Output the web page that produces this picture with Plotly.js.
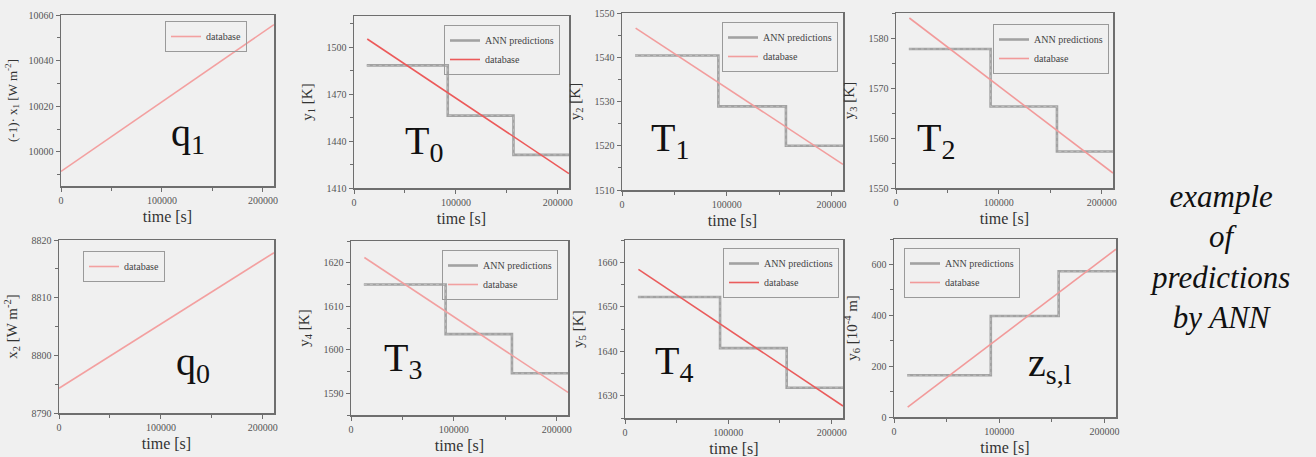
<!DOCTYPE html>
<html>
<head>
<meta charset="utf-8">
<script src="https://cdn.plot.ly/plotly-3.0.1.min.js"></script>
<style>html,body{margin:0;padding:0;background:#f0f0f0;}#chart{width:1316px;height:457px;}</style>
</head>
<body>
<div id="chart"></div>
<script>
// ---------------- data ----------------
const timeTickVals = [0, 100000, 200000];

// database series: start / end points of each linear record
const q1Time = [0, 211000];
const q1Database = [9991.4, 10055.8];
const q0Time = [0, 211000];
const q0Database = [8794.3, 8817.8];

const dbTime = [13000, 211000];
const T0Database = [1505.3, 1419.2];
const T1Database = [1546.6, 1515.8];
const T2Database = [1584.0, 1553.0];
const T3Database = [1621.2, 1590.2];
const T4Database = [1658.4, 1627.7];
const zDatabase = [39, 660];

// ANN predictions: step breakpoints
const annTime = [12500, 92000, 156500, 211000];
const T0Ann = [1488.4, 1456.3, 1431.2, 1431.2];
const T1Ann = [1540.4, 1528.9, 1520.0, 1520.0];
const T2Ann = [1577.8, 1566.3, 1557.3, 1557.3];
const T3Ann = [1615.0, 1603.6, 1594.6, 1594.6];
const T4Ann = [1652.2, 1640.7, 1631.8, 1631.8];
const zAnn = [164, 397, 573, 573];

const panelLabels = ['q<sub>1</sub>', 'T<sub>0</sub>', 'T<sub>1</sub>', 'T<sub>2</sub>',
                     'q<sub>0</sub>', 'T<sub>3</sub>', 'T<sub>4</sub>', 'z<sub>s,l</sub>'];
const yTitles = ['(-1)· x<sub>1</sub> [W m<sup>-2</sup>]', 'y<sub>1</sub> [K]', 'y<sub>2</sub> [K]', 'y<sub>3</sub> [K]',
                 'x<sub>2</sub> [W m<sup>-2</sup>]', 'y<sub>4</sub> [K]', 'y<sub>5</sub> [K]', 'y<sub>6</sub> [10<sup>-4</sup> m]'];
const sideText = '<i>example<br>of<br>predictions<br>by ANN</i>';

// ---------------- layout helpers ----------------
const W = 1316, H = 457;
const FONT = '"Liberation Serif", "DejaVu Serif", serif';
const px = v => v / W;
const py = v => 1 - v / H;

// plot-area boxes [left, right, top, bottom] in pixels
const boxes = [
  [61, 274, 15, 186], [354, 569, 16, 188], [622, 843, 13, 190], [896, 1113, 13, 188],
  [59, 274, 240, 413], [351, 568, 241, 415], [625, 843, 240, 418], [894, 1116, 239, 417]
];
const yRanges = [[9985, 10060], [1410, 1520], [1510, 1550], [1550, 1585],
                 [8790, 8820], [1585, 1625], [1625, 1665], [0, 700]];
const yDticks = [20, 30, 10, 10, 10, 10, 10, 200];
const yTick0 = [10000, 1410, 1510, 1550, 8790, 1590, 1630, 0];
const yTitleSize = [13, 15, 15, 15, 15, 15, 15, 15];
const yStandoff = [8, 10, 10, 10, 10, 10, 10, 10];

const dbColors = ['#f3a0a0', '#ec5a5a', '#f29d9d', '#f29a9a', '#f3a0a0', '#f2a0a0', '#ea5c5c', '#f29a9a'];

const traces = [];
const layout = {
  width: W, height: H,
  paper_bgcolor: '#f0f0f0', plot_bgcolor: '#f0f0f0',
  margin: {l: 0, r: 0, t: 0, b: 0, pad: 0},
  font: {family: FONT, color: '#333'},
  annotations: [], showlegend: true
};

function addPanel(i, dbX, dbY, annY) {
  const n = i + 1;
  const xa = 'x' + (n === 1 ? '' : n), ya = 'y' + (n === 1 ? '' : n);
  const lg = 'legend' + (n === 1 ? '' : n);
  if (annY) {
    traces.push({x: annTime, y: annY, xaxis: xa, yaxis: ya, mode: 'lines', line: {shape: 'hv', color: '#a2a2a2', width: 2.6},
      name: 'ANN predictions', legend: lg});
    traces.push({x: annTime, y: annY, xaxis: xa, yaxis: ya, mode: 'lines', line: {shape: 'hv', color: '#c4c4c4', width: 0.8, dash: 'dot'},
      showlegend: false, hoverinfo: 'skip', legend: lg});
  }
  traces.push({x: dbX, y: dbY, xaxis: xa, yaxis: ya, mode: 'lines', line: {color: dbColors[i], width: 1.6},
    name: 'database', legend: lg});

  const b = boxes[i];
  const common = {showgrid: false, zeroline: false, showline: true, mirror: true, linecolor: '#6e6e6e', linewidth: 1.5,
    ticks: 'outside', ticklen: 4, tickwidth: 1, tickcolor: '#6e6e6e', automargin: false, fixedrange: true,
    tickfont: {family: FONT, size: 10, color: '#555'}, tickformat: 'd'};
  layout['xaxis' + (n === 1 ? '' : n)] = Object.assign({}, common, {
    domain: [px(b[0]), px(b[1])], anchor: ya, range: [0, 211000],
    tickvals: timeTickVals, minor: {tickvals: [50000, 150000], ticks: 'outside', ticklen: 3, tickcolor: '#6e6e6e'},
    title: {text: 'time [s]', font: {family: FONT, size: 16, color: '#333'}, standoff: 6}
  });
  layout['yaxis' + (n === 1 ? '' : n)] = Object.assign({}, common, {
    domain: [py(b[3]), py(b[2])], anchor: xa, range: yRanges[i],
    tick0: yTick0[i], dtick: yDticks[i],
    minor: {dtick: yDticks[i] / 2, ticks: 'outside', ticklen: 3, tickcolor: '#6e6e6e'},
    title: {text: yTitles[i], font: {family: FONT, size: yTitleSize[i], color: '#333'}, standoff: yStandoff[i]}
  });
}

addPanel(0, q1Time, q1Database, null);
addPanel(1, dbTime, T0Database, T0Ann);
addPanel(2, dbTime, T1Database, T1Ann);
addPanel(3, dbTime, T2Database, T2Ann);
addPanel(4, q0Time, q0Database, null);
addPanel(5, dbTime, T3Database, T3Ann);
addPanel(6, dbTime, T4Database, T4Ann);
addPanel(7, dbTime, zDatabase, zAnn);

// legends: [x, y, xanchor]
const legendPos = [[247, 21, 'right'], [560, 25, 'right'], [838, 22, 'right'], [1109, 24, 'right'],
                   [83, 251, 'left'], [558, 250, 'right'], [839, 248, 'right'], [904, 248, 'left']];
legendPos.forEach((p, i) => {
  layout['legend' + (i === 0 ? '' : i + 1)] = {
    x: px(p[0]), y: py(p[1]), xanchor: p[2], yanchor: 'top', xref: 'paper', yref: 'paper',
    bgcolor: 'rgba(0,0,0,0)', bordercolor: '#9a9a9a', borderwidth: 1,
    font: {family: FONT, size: 10, color: '#444'}, tracegroupgap: 0, itemwidth: 30
  };
});

// big panel labels
const labelPos = [[188, 135], [424, 143], [670, 140], [936, 140], [193, 364], [403, 360], [674, 363], [1050, 365]];
labelPos.forEach((p, i) => {
  layout.annotations.push({text: panelLabels[i], x: px(p[0]), y: py(p[1]), xref: 'paper', yref: 'paper',
    showarrow: false, xanchor: 'center', yanchor: 'middle', font: {family: FONT, size: 40, color: '#111'}});
});
layout.annotations.push({text: sideText, x: px(1220), y: py(257), xref: 'paper', yref: 'paper', showarrow: false,
  xanchor: 'center', yanchor: 'middle', align: 'center', font: {family: FONT, size: 31, color: '#111'}});

Plotly.newPlot('chart', traces, layout, {displayModeBar: false, staticPlot: true});
</script>
</body>
</html>
